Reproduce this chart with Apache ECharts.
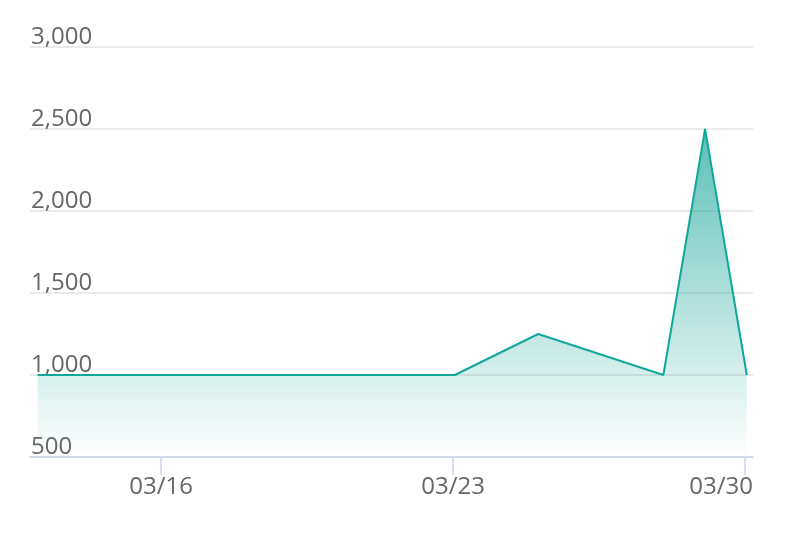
<!DOCTYPE html>
<html>
<head>
<meta charset="utf-8">
<script src="https://cdn.jsdelivr.net/npm/echarts@6/dist/echarts.min.js"></script>
<style>html,body{margin:0;padding:0;background:#fff}#c{width:788px;height:540px}</style>
</head>
<body>
<div id="c"></div>
<script>
// Dates (March) and values
var dates = ['03/13', '03/23', '03/25', '03/28', '03/29', '03/30'];
var values = [1000, 1000, 1250, 1000, 2500, 1000];
var xTickLabels = ['03/16', '03/23', '03/30'];
var yTicks = [500, 1000, 1500, 2000, 2500, 3000];

// timestamps sit at 01:00 of each day
function dayNum(s) { return parseInt(s.split('/')[1], 10); }
var seriesData = dates.map(function (d, i) { return [dayNum(d) + 1 / 24, values[i]]; });
var xTickDays = xTickLabels.map(dayNum);
var lastTick = xTickDays[xTickDays.length - 1];

var FONT = 'Open Sans';
var FS = 24;
var chart = echarts.init(document.getElementById('c'));
chart.setOption({
  animation: false,
  grid: { left: 30, right: 35, top: 47, bottom: 83, containLabel: false },
  xAxis: {
    type: 'value',
    min: 12.859,
    max: 30.19,
    axisLine: { show: true, lineStyle: { color: '#ccd6eb', width: 1.5 } },
    axisTick: { show: true, length: 18, lineStyle: { color: '#ccd6eb', width: 1.5 }, customValues: xTickDays },
    axisLabel: {
      color: '#666', fontSize: FS, fontFamily: FONT, margin: 18,
      customValues: xTickDays,
      formatter: function (v) {
        var s = '03/' + (v < 10 ? '0' + v : v);
        return v === lastTick ? '{r|' + s + '}' : s;
      },
      rich: { r: { color: '#666', fontSize: FS, fontFamily: FONT, padding: [0, 48, 0, 0] } }
    },
    splitLine: { show: false }
  },
  yAxis: {
    type: 'value',
    min: yTicks[0],
    max: yTicks[yTicks.length - 1],
    interval: 500,
    axisLine: { show: false },
    axisTick: { show: false },
    axisLabel: {
      inside: true, verticalAlign: 'bottom', margin: 1, color: '#666',
      fontSize: FS, fontFamily: FONT, padding: [0, 0, -2, 0],
      formatter: function (v) { return v.toLocaleString('en-US'); }
    },
    splitLine: { show: true, lineStyle: { color: '#e3e3e3', width: 1.5 } }
  },
  series: [{
    type: 'line',
    data: seriesData,
    symbol: 'none',
    lineStyle: { color: '#0fa89a', width: 2 },
    areaStyle: {
      color: new echarts.graphic.LinearGradient(0, 0, 0, 1, [
        { offset: 0, color: 'rgba(22,164,150,1)' },
        { offset: 1, color: 'rgba(22,164,150,0)' }
      ])
    }
  }]
});
</script>
</body>
</html>
